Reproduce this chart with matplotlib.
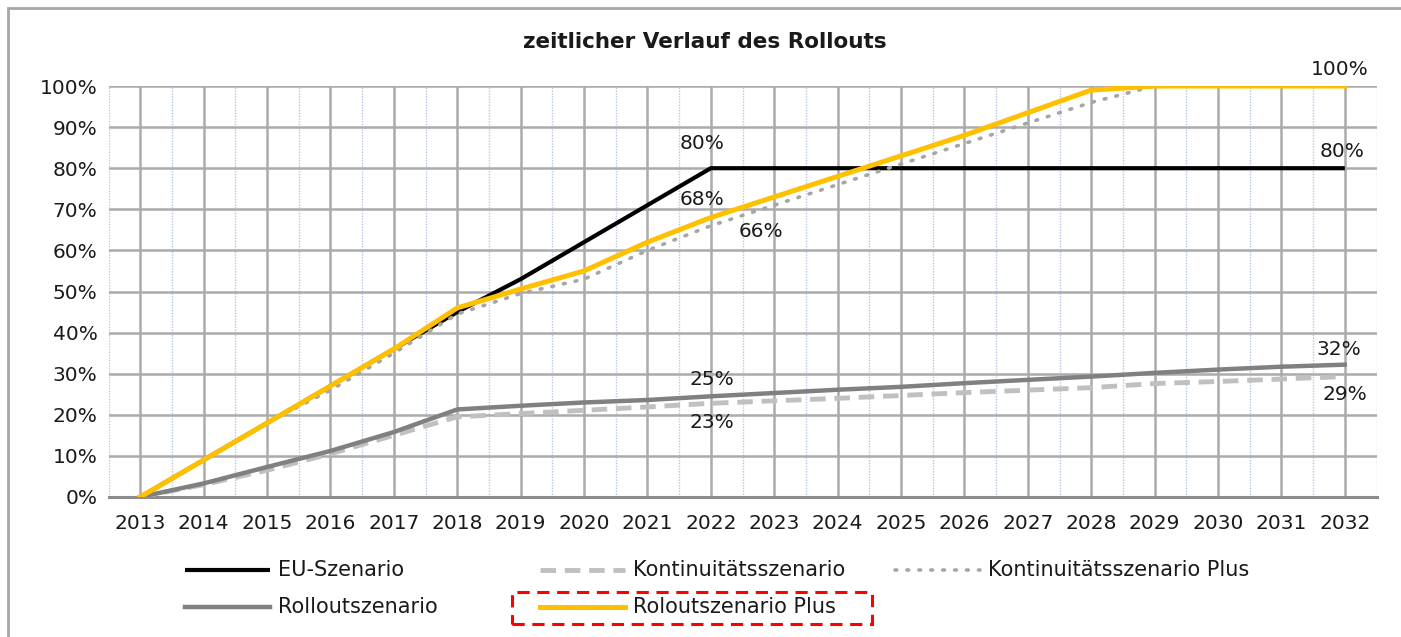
import matplotlib.pyplot as plt
from matplotlib.lines import Line2D
from matplotlib.patches import Rectangle
from matplotlib.ticker import FixedLocator

plt.rcParams['font.family'] = ['DejaVu Sans']

# Jahre (Kategorien)
years = list(range(2013, 2033))

# Anteile in Prozent
eu_szenario = [0, 9, 18, 27, 36, 45, 53, 62, 71, 80,
               80, 80, 80, 80, 80, 80, 80, 80, 80, 80]
kontinuitaet = [0, 3, 6.5, 10.5, 15, 19.5, 20.3, 21.1, 21.9, 22.8,
                23.4, 24.0, 24.7, 25.4, 26.0, 26.6, 27.6, 28.1, 28.7, 29.3]
kontinuitaet_plus = [0, 9, 18, 26, 35, 44.5, 49.5, 53, 60, 66,
                     71, 76, 81, 86, 91, 96, 100, 100, 100, 100]
rollout = [0, 3.3, 7.3, 11.2, 15.8, 21.3, 22.2, 23.0, 23.6, 24.5,
           25.3, 26.1, 26.8, 27.7, 28.5, 29.3, 30.2, 31.0, 31.7, 32.2]
rollout_plus = [0, 9, 18, 27, 36, 46, 50.6, 55, 62, 68,
                73, 78, 83, 88, 93.5, 99, 100, 100, 100, 100]

y_ticks = list(range(0, 101, 10))

FS = 14.5
TXT = '#1a1a1a'

# Stil der Reihen
series = [
    ('EU-Szenario', eu_szenario, dict(color='black', lw=3.0, solid_capstyle='butt')),
    ('Kontinuitätsszenario', kontinuitaet, dict(color='#c0c0c0', lw=3.5, dashes=(3.2, 1.8))),
    ('Kontinuitätsszenario Plus', kontinuitaet_plus, dict(color='#a6a6a6', lw=2.6, dashes=(0.5, 2.8), dash_capstyle='round')),
    ('Rolloutszenario', rollout, dict(color='#808080', lw=3.2)),
    ('Roloutszenario Plus', rollout_plus, dict(color='#ffc000', lw=3.6)),
]

fig = plt.figure(figsize=(14.01, 6.37), dpi=100)
ax = fig.add_axes([108.5 / 1401, 1 - 497 / 637, (1376.5 - 108.5) / 1401, (497 - 86) / 637])

# Gitter
ax.set_xlim(2012.5, 2032.5)
ax.set_ylim(0, 100)
ax.set_xticks(years)
ax.set_xticklabels([str(y) for y in years])
ax.xaxis.set_minor_locator(FixedLocator([y - 0.5 for y in years] + [2032.5]))
ax.set_yticks(y_ticks)
ax.set_yticklabels([f'{v}%' for v in y_ticks])
ax.grid(True, which='major', axis='both', color='#ababab', lw=1.8, zorder=0)
ax.grid(True, which='minor', axis='x', color='#b4c7e7', lw=1.0, ls=(0, (1, 1)), zorder=0)
ax.tick_params(axis='both', which='both', length=0, labelsize=FS, colors=TXT)
ax.tick_params(axis='x', pad=12)
ax.tick_params(axis='y', pad=8)
for side in ['top', 'left', 'right']:
    ax.spines[side].set_visible(False)
ax.spines['bottom'].set_color('#8c8c8c')
ax.spines['bottom'].set_linewidth(2.2)
ax.set_axisbelow(True)

for name, vals, style in series:
    ax.plot(years, vals, label=name, zorder=3, **style)

# Datenbeschriftungen: (Reihe, Jahr, Text, Versatz in pt)
labels = [
    (eu_szenario, 2022, '80%', (-6, 18)),
    (rollout_plus, 2022, '68%', (-6, 13)),
    (kontinuitaet_plus, 2022, '66%', (36, -4)),
    (rollout_plus, 2032, '100%', (-4, 12)),
    (eu_szenario, 2032, '80%', (-2, 12)),
    (rollout, 2032, '32%', (-4, 11)),
    (kontinuitaet, 2032, '29%', (0, -13)),
    (rollout, 2022, '25%', (1, 12)),
    (kontinuitaet, 2022, '23%', (1, -14)),
]
for vals, yr, txt, off in labels:
    ax.annotate(txt, xy=(yr, vals[years.index(yr)]), xytext=off, textcoords='offset points',
                ha='center', va='center', fontsize=FS, color=TXT, zorder=5)

fig.text(705 / 1401, 1 - 42 / 637, 'zeitlicher Verlauf des Rollouts', ha='center', va='center',
         fontsize=15.5, fontweight='bold', color=TXT)

# Legende (manuell positioniert wie im Original)
legend_pos = [(185, 570), (540, 570), (895, 570), (185, 607), (540, 607)]
for (name, vals, style), (lx, ly) in zip(series, legend_pos):
    yf = 1 - ly / 637
    fig.add_artist(Line2D([lx / 1401, (lx + 85) / 1401], [yf, yf], transform=fig.transFigure, **style))
    fig.text((lx + 93) / 1401, yf, name, ha='left', va='center', fontsize=15, color=TXT)

# rote gestrichelte Markierung
fig.add_artist(Rectangle((512 / 1401, 1 - 624 / 637), 360 / 1401, 32 / 637, transform=fig.transFigure,
                         fill=False, edgecolor='#ff0000', lw=2.2, ls=(0, (4, 2.5))))

# Diagrammrahmen
fig.add_artist(Rectangle((8 / 1401, -0.1), 1.2, 1.1 - 8 / 637, transform=fig.transFigure,
                         fill=False, edgecolor='#a6a6a6', lw=2.0))

fig.savefig('out.png', dpi=100)
